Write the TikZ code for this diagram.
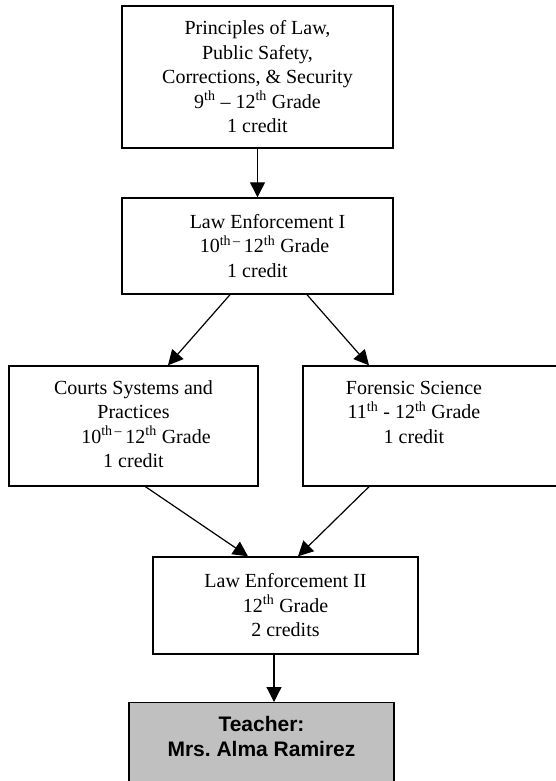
\documentclass[tikz,border=0pt]{standalone}
\usepackage{fontspec}
\setmainfont{Liberation Serif}
\setsansfont{Liberation Sans}
\usetikzlibrary{positioning}
\usetikzlibrary{arrows.meta}

\begin{document}
\begin{tikzpicture}[x=1pt,y=-1pt,
  course/.style={draw,line width=1.4pt,align=center,inner sep=0pt,
    font=\fontsize{20}{24.5}\selectfont},
  teacherbox/.style={course,fill=shade,font=\sffamily\bfseries\fontsize{21}{25}\selectfont},
  flow/.style={line width=1.2pt,-{Triangle[length=15pt,width=15pt]}}]
\definecolor{shade}{HTML}{C0C0C0}
\useasboundingbox (0,0) rectangle (556,781);
\node[course,minimum width=271,minimum height=142] (principles) at (257.5,77)
  {Principles of Law,\\ Public Safety,\\ Corrections, \& Security\\
   9\textsuperscript{th} -- 12\textsuperscript{th} Grade\\ 1 credit};
\node[course,minimum width=271,minimum height=96] (lawone) at (257.5,246)
  {\hspace*{20pt}Law Enforcement I\\
   \hspace*{14pt}10\textsuperscript{th\,--}\,12\textsuperscript{th} Grade\\ 1 credit};
\node[course,minimum width=249,minimum height=120] (courts) at (133.5,426)
  {\begin{tabular}{@{}c@{}}Courts Systems and\\ Practices\\
   \hspace*{25pt}10\textsuperscript{th\,--}\,12\textsuperscript{th} Grade\\ 1 credit\end{tabular}};
\node[course,minimum width=262,minimum height=120] (forensic) at (434,426)
  {\begin{tabular}{@{}c@{}}Forensic Science\\
   11\textsuperscript{th} - 12\textsuperscript{th} Grade\\ 1 credit\\ \mbox{}\end{tabular}\hspace*{40pt}};
\node[course,minimum width=265,minimum height=97] (lawtwo) at (285.5,605.5)
  {Law Enforcement II\\ 12\textsuperscript{th} Grade\\ 2 credits};
\node[teacherbox,minimum width=265,anchor=north,inner ysep=13.5pt,text depth=60pt]
  (teacher) at (261.5,702) {Teacher:\\ Mrs.\ Alma Ramirez};
% connectors
\draw[flow] (principles.south) -- (lawone.north);
\draw[flow] ([xshift=-27.5pt]lawone.south) -- ([xshift=34.5pt]courts.north);
\draw[flow] ([xshift=49.5pt]lawone.south) -- ([xshift=-65pt]forensic.north);
\draw[flow] ([xshift=12pt]courts.south) -- ([xshift=-37.5pt]lawtwo.north);
\draw[flow] ([xshift=-65pt]forensic.south) -- ([xshift=12.5pt]lawtwo.north);
\draw[flow] ([xshift=-11.5pt]lawtwo.south) -- ([xshift=12.5pt]teacher.north);
\end{tikzpicture}
\end{document}
